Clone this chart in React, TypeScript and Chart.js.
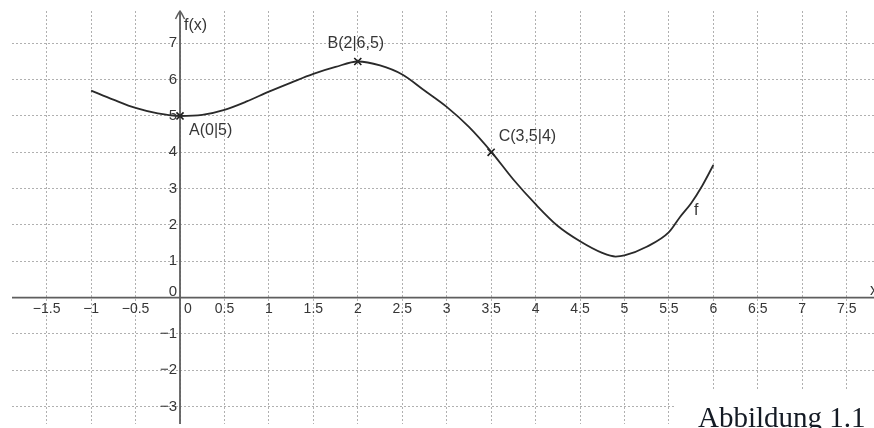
import React, { useEffect, useRef } from "react";
import { Chart, registerables } from "chart.js";

Chart.register(...registerables);

// Curve f
const xValues = [-1, -0.75, -0.5, -0.25, 0, 0.25, 0.5, 0.75, 1, 1.25, 1.5, 1.75, 2, 2.25, 2.5, 2.75, 3, 3.25, 3.5, 3.75, 4, 4.25, 4.5, 4.75, 4.9, 5, 5.25, 5.5, 5.625, 5.75, 5.875, 6];
const fValues = [5.7, 5.45, 5.22, 5.07, 5.0, 5.03, 5.17, 5.4, 5.67, 5.92, 6.16, 6.35, 6.5, 6.39, 6.14, 5.7, 5.25, 4.7, 4.02, 3.25, 2.57, 1.97, 1.55, 1.23, 1.13, 1.16, 1.4, 1.8, 2.22, 2.6, 3.08, 3.65];

// Marked points
const pointX = [0, 2, 3.5];
const pointY = [5, 6.5, 4];
const pointLabels = ["A(0|5)", "B(2|6,5)", "C(3,5|4)"];

// Axes ticks
const xTicks = [-1.5, -1, -0.5, 0, 0.5, 1, 1.5, 2, 2.5, 3, 3.5, 4, 4.5, 5, 5.5, 6, 6.5, 7, 7.5];
const yTicks = [-3, -2, -1, 0, 1, 2, 3, 4, 5, 6, 7];

const curveName = "f";
const yAxisTitle = "f(x)";
const xAxisTitle = "x";
const caption = "Abbildung 1.1";

const fmt = (v: number) => (v < 0 ? "\u2212" + String(Math.abs(v)) : String(v));

const SANS = "'Liberation Sans', Arial, sans-serif";

const geoPlugin = {
  id: "geoAxes",
  beforeDatasetsDraw(chart: any) {
    const { ctx, chartArea, scales } = chart;
    const ox = scales.x.getPixelForValue(0);
    const oy = scales.y.getPixelForValue(0);
    ctx.save();
    ctx.strokeStyle = "#5e5e5e";
    ctx.lineWidth = 1.8;
    ctx.beginPath();
    ctx.moveTo(chartArea.left, oy);
    ctx.lineTo(chartArea.right, oy);
    ctx.moveTo(ox, chartArea.bottom);
    ctx.lineTo(ox, chartArea.top + 1);
    ctx.stroke();
    // arrow head of y axis
    ctx.lineWidth = 1.5;
    ctx.beginPath();
    ctx.moveTo(ox - 4.5, chartArea.top + 8);
    ctx.quadraticCurveTo(ox - 1, chartArea.top + 1, ox, chartArea.top);
    ctx.quadraticCurveTo(ox + 1, chartArea.top + 1, ox + 4.5, chartArea.top + 8);
    ctx.stroke();
    ctx.restore();
  },
  afterDraw(chart: any) {
    const { ctx, chartArea, scales } = chart;
    const xs = scales.x;
    const ys = scales.y;
    const ox = xs.getPixelForValue(0);
    const oy = ys.getPixelForValue(0);
    ctx.save();
    ctx.fillStyle = "#363636";
    ctx.textBaseline = "middle";

    // x tick labels
    ctx.font = "14px " + SANS;
    ctx.textAlign = "center";
    xTicks.forEach((v) => {
      const px = xs.getPixelForValue(v);
      if (v === 0) {
        ctx.fillText("0", px + 8, oy + 12);
      } else {
        ctx.fillText(fmt(v), px, oy + 12);
      }
    });

    // y tick labels
    ctx.font = "15px " + SANS;
    ctx.textAlign = "right";
    yTicks.forEach((v) => {
      const py = ys.getPixelForValue(v);
      if (v === 0) {
        ctx.fillText("0", ox - 3, py - 6);
      } else {
        ctx.fillText(fmt(v), ox - 3, py);
      }
    });

    // axis titles
    ctx.font = "16px " + SANS;
    ctx.textAlign = "left";
    ctx.fillText(yAxisTitle, ox + 4, chartArea.top + 15);
    ctx.fillText(xAxisTitle, chartArea.right - 4, oy - 7);

    // point labels
    ctx.font = "16px " + SANS;
    const offs = [
      { dx: 9, dy: 15, align: "left" },
      { dx: -2, dy: -18, align: "center" },
      { dx: 7.5, dy: -15.5, align: "left" },
    ];
    pointLabels.forEach((t, i) => {
      const px = xs.getPixelForValue(pointX[i]);
      const py = ys.getPixelForValue(pointY[i]);
      ctx.textAlign = offs[i].align;
      ctx.fillText(t, px + offs[i].dx, py + offs[i].dy);
    });

    // curve name
    ctx.textAlign = "left";
    ctx.font = "16px " + SANS;
    ctx.fillText(curveName, xs.getPixelForValue(5.85) - 6, ys.getPixelForValue(2.4));

    // caption on white box
    ctx.fillStyle = "#ffffff";
    ctx.fillRect(676, 389, chart.width - 676, chart.height - 389);
    ctx.fillStyle = "#141a24";
    ctx.textBaseline = "alphabetic";
    ctx.font = "29px 'Liberation Serif', 'DejaVu Serif', serif";
    ctx.fillText(caption, 698, 427);
    ctx.restore();
  },
};

export default function App() {
  const ref = useRef<HTMLCanvasElement | null>(null);

  useEffect(() => {
    if (!ref.current) return;
    const tickBuilder = (vals: number[]) => (scale: any) => {
      scale.ticks = vals.map((v) => ({ value: v }));
    };
    const chart = new Chart(ref.current, {
      type: "scatter",
      data: {
        datasets: [
          {
            label: curveName,
            data: xValues.map((x, i) => ({ x, y: fValues[i] })),
            showLine: true,
            borderColor: "#2a2a2a",
            borderWidth: 1.8,
            pointRadius: 0,
            cubicInterpolationMode: "monotone",
            clip: false,
          } as any,
          {
            label: "points",
            data: pointX.map((x, i) => ({ x, y: pointY[i] })),
            showLine: false,
            pointStyle: "crossRot",
            pointRadius: 5,
            borderColor: "#1a1a1a",
            borderWidth: 1.6,
            clip: false,
          } as any,
        ],
      },
      options: {
        animation: false,
        responsive: true,
        maintainAspectRatio: false,
        layout: { autoPadding: false, padding: { left: 12, top: 11, right: 0, bottom: 4 } },
        plugins: { legend: { display: false }, tooltip: { enabled: false } },
        scales: {
          x: {
            type: "linear",
            min: -1.89,
            max: 7.807,
            afterBuildTicks: tickBuilder(xTicks),
            afterFit: (s: any) => {
              s.height = 0;
            },
            ticks: { display: false },
            grid: { color: "#b0b0b0", lineWidth: 1, drawTicks: false },
            border: { display: false, dash: [2, 2] },
          },
          y: {
            type: "linear",
            min: -3.48,
            max: 7.89,
            afterBuildTicks: tickBuilder(yTicks),
            afterFit: (s: any) => {
              s.width = 0;
            },
            ticks: { display: false },
            grid: { color: "#b0b0b0", lineWidth: 1, drawTicks: false },
            border: { display: false, dash: [2, 2] },
          },
        },
      } as any,
      plugins: [geoPlugin],
    });
    return () => chart.destroy();
  }, []);

  return (
    <div
      style={{
        position: "fixed",
        left: 0,
        top: 0,
        width: 874,
        height: 428,
        background: "#ffffff",
      }}
    >
      <canvas ref={ref} />
    </div>
  );
}
